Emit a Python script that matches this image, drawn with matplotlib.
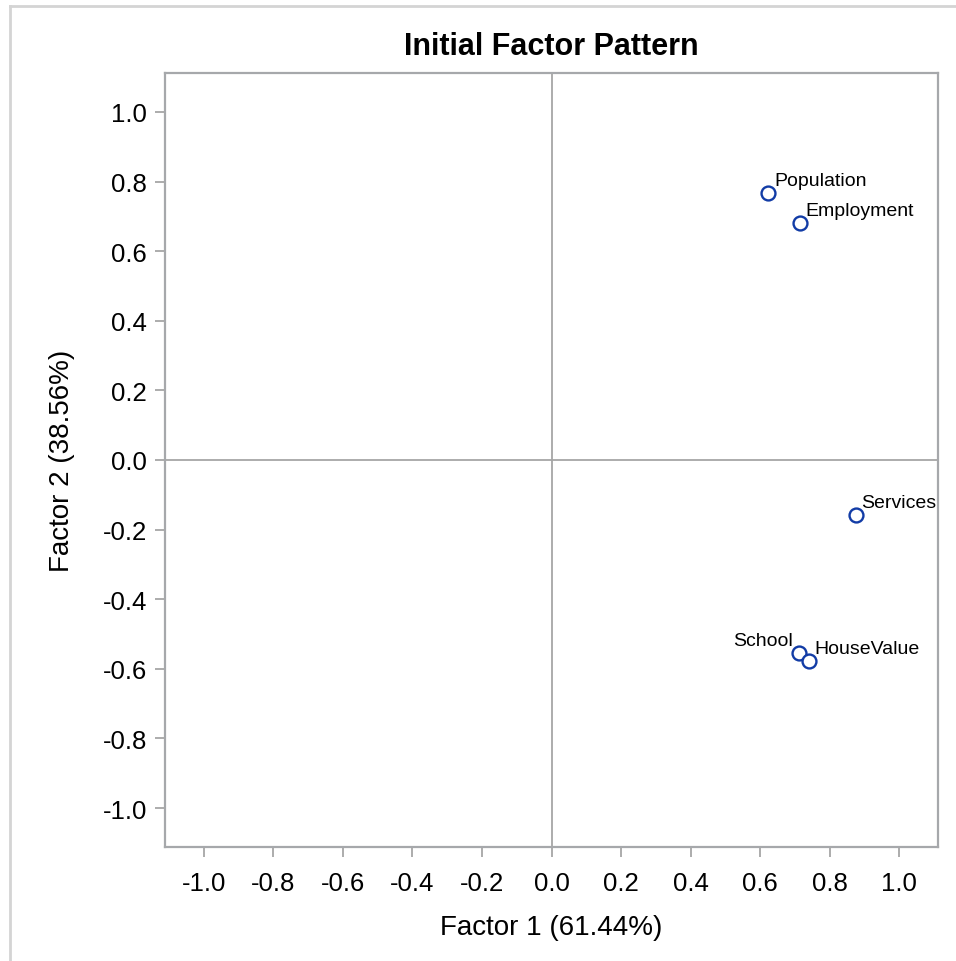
import matplotlib
matplotlib.use("Agg")
import matplotlib.pyplot as plt
from matplotlib.lines import Line2D

plt.rcParams['font.family'] = ['Liberation Sans', 'DejaVu Sans']

# loadings
variables = ['Population', 'School', 'Employment', 'Services', 'HouseValue']
factor1 = [0.624, 0.711, 0.714, 0.876, 0.741]
factor2 = [0.767, -0.555, 0.681, -0.158, -0.578]
label_side = ['right', 'left', 'right', 'right', 'right']

ticks = [-1.0, -0.8, -0.6, -0.4, -0.2, 0.0, 0.2, 0.4, 0.6, 0.8, 1.0]
tick_labels = ['%.1f' % t for t in ticks]

fig = plt.figure(figsize=(9.56, 9.62), dpi=100)
ax = fig.add_axes([0.1726, 0.1185, 0.8086, 0.8046])

# outer frame (only top and left show in the crop)
fig.add_artist(Line2D([0.0105, 0.0105], [0, 0.993], color='#d4d4d4', lw=2, transform=fig.transFigure))
fig.add_artist(Line2D([0.0105, 1], [0.993, 0.993], color='#d4d4d4', lw=2, transform=fig.transFigure))

ax.axhline(0, color='#a6a6a6', lw=1.3, zorder=1)
ax.axvline(0, color='#a6a6a6', lw=1.3, zorder=1)

ax.plot(factor1, factor2, 'o', ms=10, mfc='white', mec='#123ca6', mew=1.7, ls='none', zorder=3)
for name, x, y, side in zip(variables, factor1, factor2, label_side):
    if side == 'right':
        ax.annotate(name, (x, y), xytext=(4, 3), textcoords='offset points',
                    ha='left', va='bottom', fontsize=14)
    else:
        ax.annotate(name, (x, y), xytext=(-4, 3), textcoords='offset points',
                    ha='right', va='bottom', fontsize=14)

ax.set_xlim(-1.112, 1.112)
ax.set_ylim(-1.112, 1.112)
ax.set_xticks(ticks)
ax.set_xticklabels(tick_labels)
ax.set_yticks(ticks)
ax.set_yticklabels(tick_labels)
ax.tick_params(direction='out', length=7, width=1.3, color='#a6a6a6', labelsize=18.5, pad=6)
ax.tick_params(axis='x', pad=10)

for s in ax.spines.values():
    s.set_color('#a6a8ab')
    s.set_linewidth(1.6)

ax.set_xlabel('Factor 1 (61.44%)', fontsize=20, labelpad=14)
ax.set_ylabel('Factor 2 (38.56%)', fontsize=20, labelpad=20)
ax.set_title('Initial Factor Pattern', fontsize=22, fontweight='bold', pad=14)

fig.savefig('out.png', dpi=100)
